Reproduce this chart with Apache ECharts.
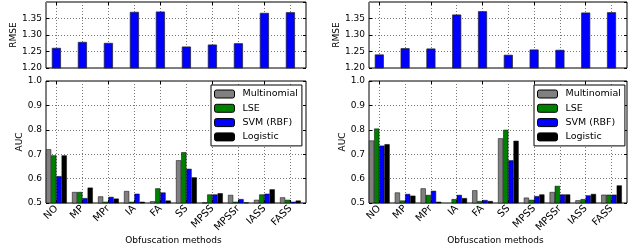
<!DOCTYPE html>
<html>
<head>
<meta charset="utf-8">
<script src="https://cdn.jsdelivr.net/npm/echarts@6/dist/echarts.min.js"></script>
<style>
html, body { margin: 0; background: #fff; }
#chart { width: 629px; height: 248px; }
</style>
</head>
<body>
<div id="chart"></div>
<script>
// categories and classifiers
const categories = ['NO', 'MP', 'MPr', 'IA', 'FA', 'SS', 'MPSS', 'MPSSr', 'IASS', 'FASS']
const classifiers = ['Multinomial', 'LSE', 'SVM (RBF)', 'Logistic']

// RMSE (top row)
const rmseLeft = [1.261, 1.279, 1.276, 1.370, 1.371, 1.265, 1.271, 1.275, 1.367, 1.369]
const rmseRight = [1.241, 1.260, 1.259, 1.362, 1.372, 1.240, 1.256, 1.255, 1.368, 1.369]

// AUC (bottom row), left panel
const aucLeftMultinomial = [0.720, 0.545, 0.527, 0.549, 0.507, 0.675, 0.502, 0.533, 0.513, 0.523]
const aucLeftLse = [0.695, 0.545, 0.505, 0.505, 0.560, 0.708, 0.535, 0.505, 0.535, 0.513]
const aucLeftSvm = [0.610, 0.520, 0.525, 0.538, 0.543, 0.640, 0.535, 0.516, 0.538, 0.505]
const aucLeftLogistic = [0.695, 0.563, 0.518, 0.505, 0.510, 0.605, 0.540, 0.502, 0.556, 0.510]

// AUC, right panel
const aucRightMultinomial = [0.756, 0.543, 0.560, 0.501, 0.552, 0.765, 0.522, 0.545, 0.511, 0.534]
const aucRightLse = [0.805, 0.510, 0.533, 0.516, 0.508, 0.800, 0.513, 0.570, 0.516, 0.534]
const aucRightSvm = [0.735, 0.537, 0.550, 0.533, 0.512, 0.675, 0.528, 0.535, 0.531, 0.534]
const aucRightLogistic = [0.741, 0.530, 0.505, 0.520, 0.508, 0.755, 0.535, 0.535, 0.537, 0.572]

const colors = ['#808080', '#008000', '#0000ff', '#000000']

const chart = echarts.init(document.getElementById('chart'))
const option = {
  animation: false,
  textStyle: { fontFamily: 'DejaVu Sans' },
  grid: [], xAxis: [], yAxis: [], series: [], legend: []
}

const gridLine = { show: true, lineStyle: { color: '#777', type: [1, 2], width: 1 } }
const tick = { show: true, inside: true, length: 3, lineStyle: { color: '#000' } }

// frame grid: border, y ticks/labels and horizontal grid lines
function addFrame (x0, x1, y0, y1, min, max, interval, digits, name, nameGap) {
  const gi = option.grid.length
  option.grid.push({ left: x0, top: y0, width: x1 - x0, height: y1 - y0, show: true, borderColor: '#000', borderWidth: 1 })
  option.xAxis.push({ gridIndex: gi, type: 'value', min: 0, max: 1, show: false })
  option.yAxis.push({
    gridIndex: gi, type: 'value', min, max, interval,
    axisLine: { show: false },
    axisTick: tick,
    axisLabel: { margin: 4, fontSize: 9, color: '#000', showMaxLabel: digits === 1, formatter: v => v.toFixed(digits) },
    splitLine: gridLine,
    name, nameLocation: 'middle', nameGap, nameTextStyle: { fontSize: 9, color: '#000' }
  })
  option.yAxis.push({
    gridIndex: gi, type: 'value', min, max, interval, position: 'right',
    axisLine: { show: false }, axisTick: tick, axisLabel: { show: false }, splitLine: { show: false }
  })
  return gi
}

// data grid, shifted so that category centres fall at i + 0.4
function addDataGrid (x0, x1, y0, y1, min, max, withLabels) {
  const gi = option.grid.length
  const w = x1 - x0
  option.grid.push({ left: x0 - w / 100, top: y0, width: w, height: y1 - y0, show: false })
  const xi = option.xAxis.length
  option.xAxis.push({
    gridIndex: gi, type: 'category', data: categories,
    axisLine: { show: false },
    axisTick: Object.assign({ alignWithLabel: true }, tick),
    axisLabel: { show: withLabels, rotate: 45, margin: 4, fontSize: 10, color: '#000', interval: 0 },
    splitLine: Object.assign({ alignWithLabel: true }, gridLine),
    name: withLabels ? 'Obfuscation methods' : '', nameLocation: 'middle', nameGap: 31,
    nameTextStyle: { fontSize: 9, color: '#000' }
  })
  option.xAxis.push({
    gridIndex: gi, type: 'category', data: categories, position: 'top',
    axisLine: { show: false }, axisTick: Object.assign({ alignWithLabel: true }, tick),
    axisLabel: { show: false }
  })
  const yi = option.yAxis.length
  option.yAxis.push({ gridIndex: gi, type: 'value', min, max, show: false })
  return { xi, yi }
}

function addPanel (x0, x1, rmse, auc, legendLeft) {
  addFrame(x0, x1, 2, 68, 1.2, 1.4, 0.05, 2, 'RMSE', 22)
  const top = addDataGrid(x0, x1, 2, 68, 1.2, 1.4, false)
  option.series.push({
    name: 'RMSE', type: 'bar', xAxisIndex: top.xi, yAxisIndex: top.yi,
    data: rmse, barWidth: '35%',
    itemStyle: { color: '#0000ff', borderColor: '#222', borderWidth: 0.7 }
  })
  addFrame(x0, x1, 81, 203, 0.5, 1.0, 0.1, 1, 'AUC', 18)
  const bot = addDataGrid(x0, x1, 81, 203, 0.5, 1.0, true)
  auc.forEach((vals, k) => {
    option.series.push({
      name: classifiers[k], type: 'bar', xAxisIndex: bot.xi, yAxisIndex: bot.yi,
      data: vals, barGap: '0%', barCategoryGap: '20%',
      itemStyle: { color: colors[k], borderColor: '#000', borderWidth: 0.5 }
    })
  })
  option.legend.push({
    data: classifiers, orient: 'vertical', left: legendLeft, top: 85,
    padding: [4, 4, 4, 3], itemWidth: 20, itemHeight: 8, itemGap: 4.3,
    backgroundColor: '#fff', borderColor: '#000', borderWidth: 1, borderRadius: 0,
    selectedMode: false,
    itemStyle: { borderColor: '#000', borderWidth: 1 },
    textStyle: { fontSize: 9.5, color: '#000', lineHeight: 10, padding: [0, 0, 0, 3] }
  })
}

addPanel(46, 306, rmseLeft, [aucLeftMultinomial, aucLeftLse, aucLeftSvm, aucLeftLogistic], 211)
addPanel(369, 627, rmseRight, [aucRightMultinomial, aucRightLse, aucRightSvm, aucRightLogistic], 534)

chart.setOption(option)
</script>
</body>
</html>
